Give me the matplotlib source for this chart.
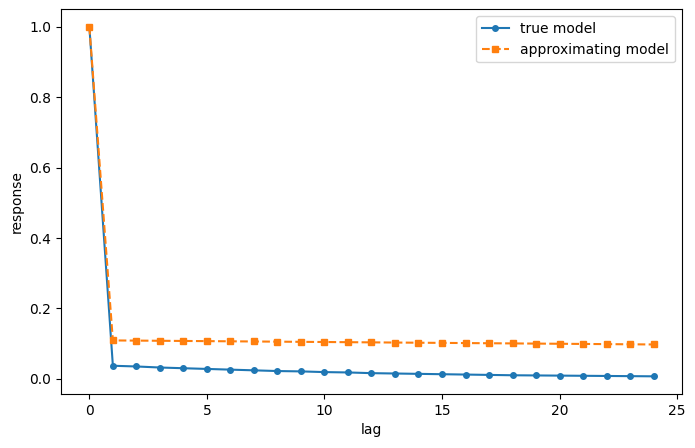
import numpy as np
import matplotlib
matplotlib.use("Agg")
import matplotlib.pyplot as plt

lags = list(range(25))
true_resp = [1.0, 0.037, 0.035, 0.032, 0.030, 0.028, 0.026, 0.024, 0.022, 0.021,
             0.019, 0.018, 0.016, 0.015, 0.014, 0.013, 0.012, 0.011, 0.010,
             0.0095, 0.009, 0.0085, 0.008, 0.0075, 0.007]
approx_resp = [1.0, 0.109, 0.1085, 0.108, 0.1075, 0.107, 0.1065, 0.106, 0.1055,
               0.105, 0.1045, 0.104, 0.1035, 0.103, 0.1025, 0.102, 0.1015, 0.101,
               0.1005, 0.100, 0.0995, 0.099, 0.0985, 0.098, 0.0975]

fig, ax = plt.subplots(figsize=(6.95, 4.48), dpi=100)
ax.plot(lags, true_resp, "o-", ms=4, label="true model")
ax.plot(lags, approx_resp, "s--", ms=4, label="approximating model")
ax.set_xlabel("lag")
ax.set_ylabel("response")
ax.legend()
fig.subplots_adjust(left=0.088, right=0.981, top=0.979, bottom=0.121)
fig.savefig("out.png")
